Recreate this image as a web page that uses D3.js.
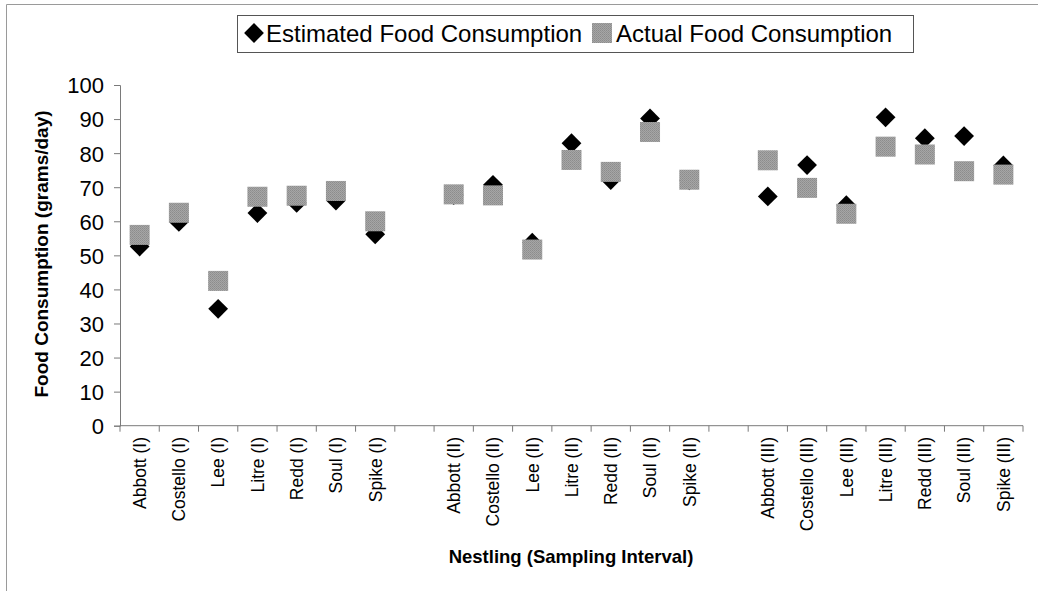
<!DOCTYPE html>
<html>
<head>
<meta charset="utf-8">
<script src="https://cdn.jsdelivr.net/npm/d3@7"></script>
<style>
  html, body { margin: 0; padding: 0; background: #fff; }
  svg text { font-family: "Liberation Sans", Arial, sans-serif; fill: #000; }
</style>
</head>
<body>
<svg id="chart" width="1038" height="591"></svg>
<script>
// Nestlings sampled in three intervals; a blank slot separates the intervals.
const nestlings = ["Abbott", "Costello", "Lee", "Litre", "Redd", "Soul", "Spike"];
const intervals = ["I", "II", "III"];
const categories = [
  "Abbott (I)", "Costello (I)", "Lee (I)", "Litre (I)", "Redd (I)", "Soul (I)", "Spike (I)", "gap1",
  "Abbott (II)", "Costello (II)", "Lee (II)", "Litre (II)", "Redd (II)", "Soul (II)", "Spike (II)", "gap2",
  "Abbott (III)", "Costello (III)", "Lee (III)", "Litre (III)", "Redd (III)", "Soul (III)", "Spike (III)"
];

// grams/day, in the order of the labelled categories
const estimated = [
  52.6, 59.8, 34.3, 62.4, 65.4, 66.1, 56.2,
  67.7, 70.7, 53.7, 82.9, 72.1, 90.2, 72.0,
  67.3, 76.5, 64.7, 90.5, 84.4, 85.0, 76.4
];
const actual = [
  56.0, 62.5, 42.5, 67.2, 67.5, 68.9, 60.0,
  67.9, 67.6, 51.7, 78.0, 74.5, 86.2, 72.2,
  77.9, 69.8, 62.2, 81.9, 79.6, 74.7, 73.7
];
const yTicks = [0, 10, 20, 30, 40, 50, 60, 70, 80, 90, 100];
const seriesNames = ["Estimated Food Consumption", "Actual Food Consumption"];

const labelled = categories.filter(c => !c.startsWith("gap"));
const estRows = labelled.map((c, i) => ({ cat: c, v: estimated[i] }));
const actRows = labelled.map((c, i) => ({ cat: c, v: actual[i] }));

const svg = d3.select("#chart");
const axisColor = "#7a7a7a";

// dithered grey fill for the actual-consumption squares
const defs = svg.append("defs");
const pat = defs.append("pattern").attr("id", "grain")
  .attr("width", 2).attr("height", 2).attr("patternUnits", "userSpaceOnUse");
pat.append("rect").attr("width", 2).attr("height", 2).attr("fill", "#a6a6a6");
pat.append("rect").attr("width", 1).attr("height", 1).attr("fill", "#8c8c8c");
pat.append("rect").attr("x", 1).attr("y", 1).attr("width", 1).attr("height", 1).attr("fill", "#949494");

// outer frame (top and left edges)
svg.append("path").attr("d", "M6.5,591 V4.5 H1038")
  .attr("fill", "none").attr("stroke", "#9a9a9a").attr("stroke-width", 1);

const x = d3.scaleBand().domain(categories).range([120, 1023]).paddingInner(0).paddingOuter(0);
const y = d3.scaleLinear().domain([0, 100]).range([425.7, 85]);

// y axis
const yAxis = svg.append("g").attr("transform", "translate(120,0)")
  .call(d3.axisLeft(y).tickValues(yTicks).tickSize(6).tickPadding(10).tickFormat(d3.format("d")));
yAxis.select(".domain").attr("stroke", axisColor);
yAxis.selectAll(".tick line").attr("stroke", axisColor);
yAxis.selectAll(".tick text").style("font-size", "22px").attr("dy", "0.36em");

// x axis: ticks sit on the slot boundaries
const bounds = d3.range(categories.length + 1).map(i => x.range()[0] + i * x.step());
const xg = svg.append("g");
xg.append("line").attr("x1", x.range()[0]).attr("x2", x.range()[1])
  .attr("y1", y(0)).attr("y2", y(0)).attr("stroke", axisColor);
xg.selectAll("line.tick").data(bounds).join("line").attr("class", "tick")
  .attr("x1", d => d).attr("x2", d => d)
  .attr("y1", y(0)).attr("y2", y(0) + 6).attr("stroke", axisColor);
xg.selectAll("text").data(labelled).join("text")
  .attr("transform", d => `translate(${x(d) + x.bandwidth() / 2},437) rotate(-90)`)
  .attr("text-anchor", "end").attr("dy", "0.36em")
  .style("font-size", "17.5px").text(d => d);

// axis titles
svg.append("text").attr("transform", "translate(48,254) rotate(-90)")
  .attr("text-anchor", "middle").style("font-size", "19px").style("font-weight", "bold")
  .text("Food Consumption (grams/day)");
svg.append("text").attr("x", 571).attr("y", 563)
  .attr("text-anchor", "middle").style("font-size", "18.5px").style("font-weight", "bold")
  .text("Nestling (Sampling Interval)");

const cx = d => x(d.cat) + x.bandwidth() / 2;
const diamondSide = 14;
const squareSide = 20;

// estimated: black diamonds
svg.append("g").selectAll("rect").data(estRows).join("rect")
  .attr("x", -diamondSide / 2).attr("y", -diamondSide / 2)
  .attr("width", diamondSide).attr("height", diamondSide)
  .attr("transform", d => `translate(${cx(d)},${y(d.v)}) rotate(45)`)
  .attr("fill", "#000");

// actual: grey squares drawn over the diamonds
svg.append("g").selectAll("rect").data(actRows).join("rect")
  .attr("x", d => cx(d) - squareSide / 2).attr("y", d => y(d.v) - squareSide / 2)
  .attr("width", squareSide).attr("height", squareSide)
  .attr("fill", "url(#grain)");

// legend
const lg = svg.append("g");
lg.append("rect").attr("x", 237.5).attr("y", 15.5).attr("width", 676).attr("height", 37)
  .attr("fill", "#fff").attr("stroke", "#555");
lg.append("rect").attr("x", -diamondSide / 2).attr("y", -diamondSide / 2)
  .attr("width", diamondSide).attr("height", diamondSide)
  .attr("transform", "translate(254,33) rotate(45)").attr("fill", "#000");
lg.append("text").attr("x", 266).attr("y", 41.5).style("font-size", "24px").text(seriesNames[0]);
lg.append("rect").attr("x", 592).attr("y", 23).attr("width", squareSide).attr("height", squareSide)
  .attr("fill", "url(#grain)");
lg.append("text").attr("x", 616).attr("y", 41.5).style("font-size", "24px").text(seriesNames[1]);
</script>
</body>
</html>
